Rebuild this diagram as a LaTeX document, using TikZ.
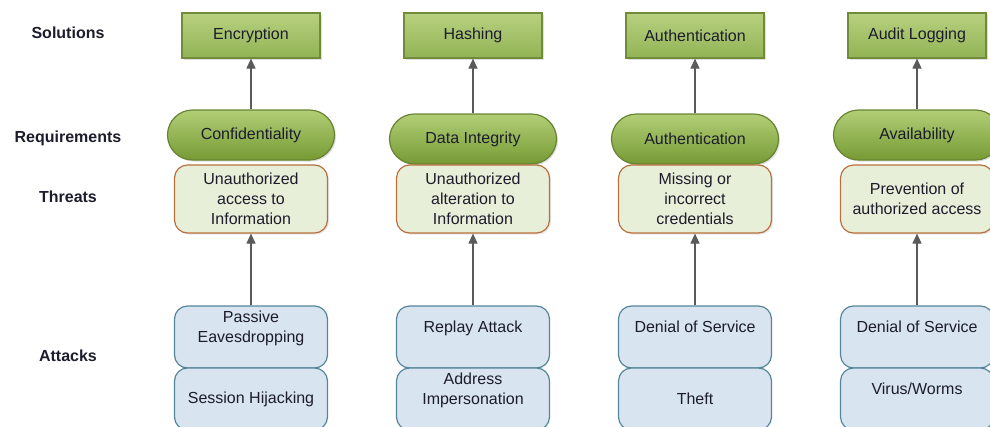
\documentclass[tikz,border=0pt]{standalone}
\usepackage{fontspec}
\setmainfont{Liberation Sans}
\usetikzlibrary{arrows.meta,shadows}

\definecolor{TextDark}{RGB}{28,28,44}
\definecolor{ArrowGray}{RGB}{90,90,90}
\definecolor{SolTop}{RGB}{184,208,128}
\definecolor{SolBottom}{RGB}{146,180,84}
\definecolor{SolEdge}{RGB}{112,140,58}
\definecolor{ReqTop}{RGB}{178,206,118}
\definecolor{ReqBottom}{RGB}{118,154,52}
\definecolor{ReqEdge}{RGB}{104,132,50}
\definecolor{ThrFill}{RGB}{232,239,216}
\definecolor{ThrEdge}{RGB}{186,112,60}
\definecolor{AttFill}{RGB}{217,228,241}
\definecolor{AttEdge}{RGB}{84,134,154}

\begin{document}
\begin{tikzpicture}[
      x = 1pt, y = -1pt,
      every node/.style = {font = \fontsize{16}{20}\selectfont, text = TextDark, align = center},
      Line/.style = {draw = ArrowGray, line width = 1.2pt, -{Triangle[length = 10pt, width = 9pt]}},
      Heading/.style = {font = \fontsize{16}{20}\selectfont\bfseries},
      Solution/.style = {draw = SolEdge, line width = 1.2pt, top color = SolTop, bottom color = SolBottom,
                         minimum width = 138pt, minimum height = 45pt,
                         drop shadow = {shadow xshift = 1.5pt, shadow yshift = -1.5pt, opacity = 0.25}},
      Requirement/.style = {draw = ReqEdge, line width = 1.2pt, top color = ReqTop, bottom color = ReqBottom,
                         rounded corners = 25pt, minimum width = 167pt, minimum height = 50pt,
                         drop shadow = {shadow xshift = 1.5pt, shadow yshift = -1.5pt, opacity = 0.25}},
      Threat/.style = {draw = ThrEdge, line width = 1.2pt, fill = ThrFill, rounded corners = 13pt,
                         minimum width = 153pt, minimum height = 68pt,
                         drop shadow = {shadow xshift = 1.5pt, shadow yshift = -1.5pt, opacity = 0.2}},
      Attack/.style = {draw = AttEdge, line width = 1.2pt, fill = AttFill, rounded corners = 13pt,
                         minimum width = 153pt, minimum height = 62pt}
    ]
    \useasboundingbox (0,0) rectangle (990,426);

    % row headings
    \node at (68,33) [Heading](hSol){Solutions};
    \node at (68,138) [Heading](hReq){Requirements};
    \node at (68,197) [Heading](hThr){Threats};
    \node at (68,356) [Heading](hAtt){Attacks};

    % solutions
    \node at (251,35.5) [Solution](S1){Encryption};
    \node at (473,35.5) [Solution](S2){Hashing};
    \node at (695,35.5) [Solution](S3){Authentication};
    \node at (917,35.5) [Solution](S4){Audit Logging};

    % requirements
    \node at (251,135) [Requirement](R1){Confidentiality};
    \node at (473,139) [Requirement](R2){Data Integrity};
    \node at (695,139) [Requirement](R3){Authentication};
    \node at (917,135) [Requirement](R4){Availability};

    % threats
    \node at (251,199) [Threat](T1){Unauthorized\\access to\\Information};
    \node at (473,199) [Threat](T2){Unauthorized\\alteration to\\Information};
    \node at (695,199) [Threat](T3){Missing or\\incorrect\\credentials};
    \node at (917,199) [Threat](T4){Prevention of\\authorized access};

    % attacks
    \node at (251,337) [Attack](A1){Passive\\Eavesdropping\\~};
    \node at (251,399) [Attack](B1){Session Hijacking};
    \node at (473,337) [Attack](A2){Replay Attack\\~};
    \node at (473,399) [Attack](B2){Address\\Impersonation\\~};
    \node at (695,337) [Attack](A3){Denial of Service\\~};
    \node at (695,399) [Attack](B3){Theft};
    \node at (917,337) [Attack](A4){Denial of Service\\~};
    \node at (917,399) [Attack](B4){Virus/Worms\\~};

    \path [Line] (R1) -- (S1);
    \path [Line] (R2) -- (S2);
    \path [Line] (R3) -- (S3);
    \path [Line] (R4) -- (S4);

    \path [Line] (A1) -- (T1);
    \path [Line] (A2) -- (T2);
    \path [Line] (A3) -- (T3);
    \path [Line] (A4) -- (T4);
  \end{tikzpicture}
\end{document}
